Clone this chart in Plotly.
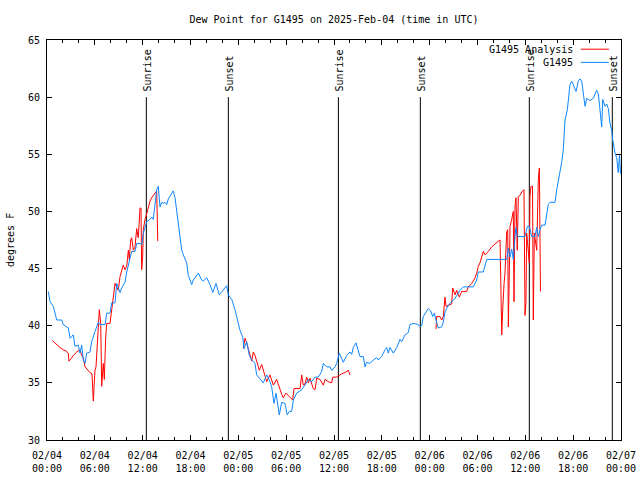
import plotly.graph_objects as go

TITLE = "Dew Point for G1495 on 2025-Feb-04 (time in UTC)"
Y_TITLE = "degrees F"

# time axis: hours since 2025-02-04 00:00 UTC
obs_hours = [0.16, 0.38, 0.79, 1.00, 1.22, 1.84, 2.04, 2.67, 2.89, 3.30, 3.51, 3.93, 4.14, 4.35, 4.55,
             4.77, 4.98, 5.39, 5.61, 6.02, 6.44, 6.65, 7.28, 7.49, 7.90, 8.12, 8.53, 8.74, 9.16, 9.37,
             9.78, 10.00, 10.41, 10.62, 11.04, 11.25, 11.67, 11.88, 12.08, 12.29, 12.51, 12.92, 13.13,
             13.33, 13.55, 13.76, 13.96, 14.17, 14.39, 14.59, 14.80, 15.02, 15.22, 15.64, 15.84, 16.06,
             16.27, 16.68, 16.90, 17.10, 17.52, 17.72, 17.94, 18.15, 18.35, 18.56, 18.98, 19.41, 19.61,
             20.03, 20.45, 20.79, 21.20, 21.61, 22.12, 22.54, 22.74, 23.17, 23.58, 23.80, 24.21, 24.55,
             24.71, 25.05, 25.38, 25.68, 26.09, 26.30, 26.72, 27.13, 27.56, 27.97, 28.19, 28.47, 28.73,
             29.14, 29.44, 29.85, 30.14, 30.39, 30.69, 30.90, 31.32, 31.95, 32.36, 32.78, 33.20, 33.62,
             34.03, 34.46, 34.66, 35.09, 35.50, 35.71, 36.13, 36.34, 36.67, 36.97, 37.17, 37.59, 38.01,
             38.22, 38.42, 38.76, 39.05, 39.26, 39.68, 39.89, 40.10, 40.52, 40.93, 41.36, 41.56, 41.98,
             42.40, 42.61, 42.81, 43.03, 43.44, 43.87, 44.28, 44.49, 44.91, 45.32, 45.53, 45.95, 46.57,
             46.79, 47.00, 47.20, 47.83, 48.13, 48.38, 48.58, 48.80, 49.08, 49.51, 49.71, 49.92, 50.34,
             50.76, 51.18, 51.81, 52.22, 53.48, 53.90, 54.10, 54.73, 55.16, 57.66, 57.87, 58.08, 58.29,
             58.49, 58.70, 58.83, 58.99, 59.96, 60.25, 60.50, 60.80, 61.21, 61.43, 61.63, 61.84, 62.05,
             62.47, 62.68, 62.88, 63.10, 63.72, 63.94, 64.14, 64.35, 64.56, 64.76, 64.98, 65.27, 65.60,
             65.82, 66.11, 66.36, 66.65, 66.86, 67.07, 67.27, 67.49, 67.70, 68.11, 68.53, 68.74, 68.95,
             69.16, 69.37, 69.58, 69.71, 69.99, 70.21, 70.41, 70.62, 70.83, 70.95, 71.25, 71.46, 71.66,
             71.81, 71.94]
obs_dewpt = [43.0, 42.1, 41.7, 41.1, 40.5, 40.5, 40.1, 39.8, 38.9, 39.2, 38.2, 38.3, 37.6, 38.3, 37.0,
             36.7, 37.6, 37.7, 38.6, 39.5, 40.3, 40.1, 40.1, 41.1, 41.1, 42.0, 42.0, 43.7, 42.9, 43.3,
             43.8, 44.7, 45.8, 46.5, 46.5, 47.2, 47.2, 47.1, 48.1, 48.6, 49.1, 49.3, 49.5,
             49.3, 50.4, 51.9, 52.2, 50.4, 50.8, 50.7, 50.8, 50.6, 51.1, 51.6, 51.8, 51.2,
             50.1, 48.1, 46.6, 46.2, 45.5, 44.4, 44.0, 43.6, 44.0, 44.2, 44.6, 44.0, 43.9,
             44.2, 43.6, 42.9, 43.7, 42.7, 43.1, 43.5, 42.7, 42.3, 41.4, 40.7, 39.6, 39.0,
             38.0, 38.6, 37.4, 37.0, 36.7, 35.7, 35.3, 35.0, 35.7, 35.1, 34.6, 33.2, 34.1,
             32.2, 33.3, 33.2, 32.2, 32.5, 32.5, 33.5, 34.1, 34.4, 34.8, 35.3, 35.1, 35.5,
             35.5, 36.0, 36.7, 36.4, 36.4, 36.1, 36.4, 36.7, 37.6, 37.2, 36.8, 37.4, 37.7,
             37.5, 38.1, 38.5, 37.9, 37.3, 37.3, 36.4, 36.8, 36.7, 37.0, 37.2, 37.0, 37.3,
             37.9, 38.1, 37.6, 38.1, 37.6, 38.1, 38.8, 38.6, 39.2, 39.4, 40.1, 40.2, 40.1,
             39.9, 40.0, 40.8, 41.5, 41.3, 40.8, 41.1, 40.5, 39.8, 39.9, 40.3, 41.2, 41.8,
             42.1, 42.4, 43.1, 43.4, 43.4, 44.0, 44.7, 44.7, 45.8, 45.8, 46.8, 46.0, 46.7,
             45.8, 47.8, 48.6, 47.8, 47.8, 48.7, 48.7, 47.8, 47.8, 48.6, 47.8, 48.4, 48.8,
             48.8, 49.8, 50.6, 50.8, 50.8, 51.9, 52.6, 53.5, 54.3, 55.4, 58.0, 58.9, 61.1,
             61.4, 60.9, 60.5, 61.4, 61.6, 61.4, 60.4, 59.2, 59.9, 59.7, 59.9, 60.2, 60.6,
             60.3, 58.9, 57.4, 59.8, 59.2, 59.4, 59.0, 57.7, 57.1, 56.3, 55.1, 54.7, 53.4,
             55.0, 53.3]

# analysis series, three separate runs (None = gap)
ana_hours = [0.66, 1.22, 1.63, 2.04, 2.38, 2.67, 2.76, 3.01, 3.30, 3.73, 4.14, 4.35, 4.55, 4.77, 4.98,
             5.39, 5.64, 5.81, 5.93, 6.02, 6.15, 6.36, 6.56, 6.74, 6.86, 7.06, 7.19, 7.36, 7.49, 7.90,
             8.12, 8.32, 8.53, 8.94, 9.16, 9.37, 9.57, 9.78, 10.00, 10.20, 10.32, 10.50, 10.62, 10.83,
             11.04, 11.25, 11.45, 11.67, 11.79, 11.88, 12.00, 12.08, 12.29, 12.51, 12.71, 12.92, 13.13,
             13.33, 13.55, 13.76, 13.89,
             None,
             24.62, 24.84, 25.05, 25.25, 25.46, 25.68, 25.88, 26.09, 26.30, 26.63, 26.93, 27.13, 27.35,
             27.56, 27.97, 28.39, 28.81, 29.14, 29.44, 29.64, 29.98, 30.39, 30.82, 30.98, 31.74, 31.95,
             32.15, 32.36, 32.57, 32.78, 32.99, 33.40, 33.62, 33.83, 34.24, 34.66, 34.87, 35.29, 35.71,
             35.84, 36.34, 36.97, 37.38, 37.79, 38.01,
             None,
             48.80, 48.88, 49.30, 49.51, 49.71, 49.92, 50.05, 50.34, 50.76, 50.89, 51.18, 51.39, 51.72,
             52.02, 52.64, 52.85, 53.28, 53.69, 53.90, 54.10, 54.31, 54.52, 54.73, 54.94, 55.36, 55.78,
             56.20, 56.61, 56.83, 56.91, 57.04, 57.16, 57.24, 57.33, 57.45, 57.66, 57.79, 57.87, 58.00,
             58.08, 58.29, 58.49, 58.58, 58.70, 58.83, 58.99, 59.12, 59.33, 59.55, 59.83, 59.96, 60.08,
             60.17, 60.33, 60.50, 60.58, 60.71, 60.90, 61.00, 61.13, 61.43, 61.63, 61.76, 61.90]
ana_dewpt = [38.7, 38.3, 38.1, 37.9, 37.8, 37.6, 36.9, 37.1, 37.4, 37.7, 37.9, 37.4, 37.2, 36.4, 36.2,
             35.9, 35.8, 33.4, 35.0, 36.1, 36.4, 39.0, 41.4, 40.2, 34.7, 36.7, 35.3, 39.0, 40.2, 40.2,
             41.7, 42.5, 43.7, 43.1, 44.3, 44.9, 45.3, 44.9, 45.2, 46.6, 45.8, 47.5, 47.7, 46.6,
             46.9, 48.5, 47.7, 50.3, 50.3, 44.9, 46.0, 48.4, 49.3, 49.8, 50.4, 50.9, 51.2,
             51.4, 51.7, 51.8, 47.4,
             None,
             38.0, 38.9, 38.5, 38.0, 37.3, 36.9, 37.7, 37.4, 36.9, 36.1, 36.6, 36.1, 35.7,
             35.1, 35.7, 34.8, 35.3, 34.5, 34.0, 33.7, 34.1, 33.8, 33.5, 34.5, 34.5, 35.7,
             34.8, 34.9, 35.5, 35.0, 35.4, 34.5, 34.4, 35.4, 35.3, 34.8, 35.3, 35.1, 35.0,
             35.5, 35.5, 35.8, 35.9, 36.1, 35.7,
             None,
             39.7, 40.8, 40.8, 40.5, 40.8, 42.5, 41.7, 41.8, 41.9, 43.3, 42.7, 43.1, 42.5,
             43.0, 43.0, 43.4, 43.7, 44.2, 44.6, 45.2, 45.5, 46.0, 46.5, 46.2, 46.5, 46.9,
             47.2, 47.4, 47.5, 43.4, 39.2, 41.4, 43.1, 43.7, 44.6, 48.2, 48.4, 39.9, 45.0,
             48.7, 49.3, 50.0, 42.1, 50.4, 51.2, 46.6, 51.3, 51.4, 51.7, 51.9, 40.9, 42.1,
             48.1, 47.0, 45.5, 51.3, 52.2, 52.2, 40.5, 48.1, 46.6, 52.8, 53.8, 43.0]

sun_hours = [12.46, 22.75, 36.55, 46.83, 60.50, 70.91]
sun_labels = ["Sunrise", "Sunset", "Sunrise", "Sunset", "Sunrise", "Sunset"]
sun_line_range = [30, 60]

tick_hours = list(range(0, 73, 6))
tick_labels = ["02/04<br>00:00", "02/04<br>06:00", "02/04<br>12:00", "02/04<br>18:00",
               "02/05<br>00:00", "02/05<br>06:00", "02/05<br>12:00", "02/05<br>18:00",
               "02/06<br>00:00", "02/06<br>06:00", "02/06<br>12:00", "02/06<br>18:00",
               "02/07<br>00:00"]

series_names = ["G1495 Analysis", "G1495"]
series_colors = ["#ff0000", "#0d86ff"]

FONT = "DejaVu Sans Mono"

fig = go.Figure()

# sunrise / sunset vertical lines
sx, sy = [], []
for h in sun_hours:
    sx += [h, h, None]
    sy += [sun_line_range[0], sun_line_range[1], None]
fig.add_trace(go.Scatter(x=sx, y=sy, mode="lines", line=dict(color="black", width=1),
                         hoverinfo="skip", showlegend=False))

fig.add_trace(go.Scatter(x=ana_hours, y=ana_dewpt, mode="lines", name=series_names[0],
                         line=dict(color=series_colors[0], width=1), connectgaps=False,
                         showlegend=False))
fig.add_trace(go.Scatter(x=obs_hours, y=obs_dewpt, mode="lines", name=series_names[1],
                         line=dict(color=series_colors[1], width=1), showlegend=False))

for h, lab in zip(sun_hours, sun_labels):
    fig.add_annotation(x=h, y=sun_line_range[1], xref="x", yref="y", text=lab, textangle=-90,
                       showarrow=False, xanchor="center", yanchor="bottom", yshift=4, xshift=1,
                       font=dict(family=FONT, size=10, color="black"))

# legend (gnuplot style: text then sample line)
leg_y = [0.977, 0.944]
for name, col, yy in zip(series_names, series_colors, leg_y):
    fig.add_annotation(x=0.919, y=yy, xref="paper", yref="paper", text=name, showarrow=False,
                       xanchor="right", yanchor="middle", font=dict(family=FONT, size=10, color="black"))
    fig.add_shape(type="line", xref="paper", yref="paper", x0=0.930, x1=0.979, y0=yy, y1=yy,
                  line=dict(color=col, width=1))

fig.add_annotation(x=0, y=0.5, xref="paper", yref="paper", text=Y_TITLE, textangle=-90,
                   showarrow=False, xshift=-37, xanchor="center", yanchor="middle",
                   font=dict(family=FONT, size=10, color="black"))

fig.update_layout(
    width=640, height=480,
    margin=dict(l=47, r=19, t=40, b=40, autoexpand=False),
    paper_bgcolor="white", plot_bgcolor="white",
    font=dict(family=FONT, size=10, color="black"),
    title=dict(text=TITLE, x=(47 + 287) / 640, xanchor="center", y=1 - 19 / 480, yanchor="middle",
               font=dict(family=FONT, size=10, color="black")),
    showlegend=False,
)
fig.update_xaxes(range=[0, 72], tickmode="array", tickvals=tick_hours, ticktext=tick_labels,
                 ticks="inside", ticklen=5, tickcolor="black", showline=True, linecolor="black",
                 linewidth=1, mirror="allticks", showgrid=False, zeroline=False,
                 ticklabelstandoff=6, automargin=False,
                 minor=dict(tickmode="linear", tick0=0, dtick=2, ticks="inside", ticklen=3,
                            tickcolor="black", showgrid=False))
fig.update_yaxes(range=[30, 65], dtick=5, tick0=30, ticks="inside", ticklen=5, tickcolor="black",
                 showline=True, linecolor="black", linewidth=1, mirror="allticks",
                 showgrid=False, zeroline=False, ticklabelstandoff=4, automargin=False)

fig.write_html("out.html", config={"displayModeBar": False},
               post_script="document.body.style.margin='0';document.body.style.overflow='hidden';")
